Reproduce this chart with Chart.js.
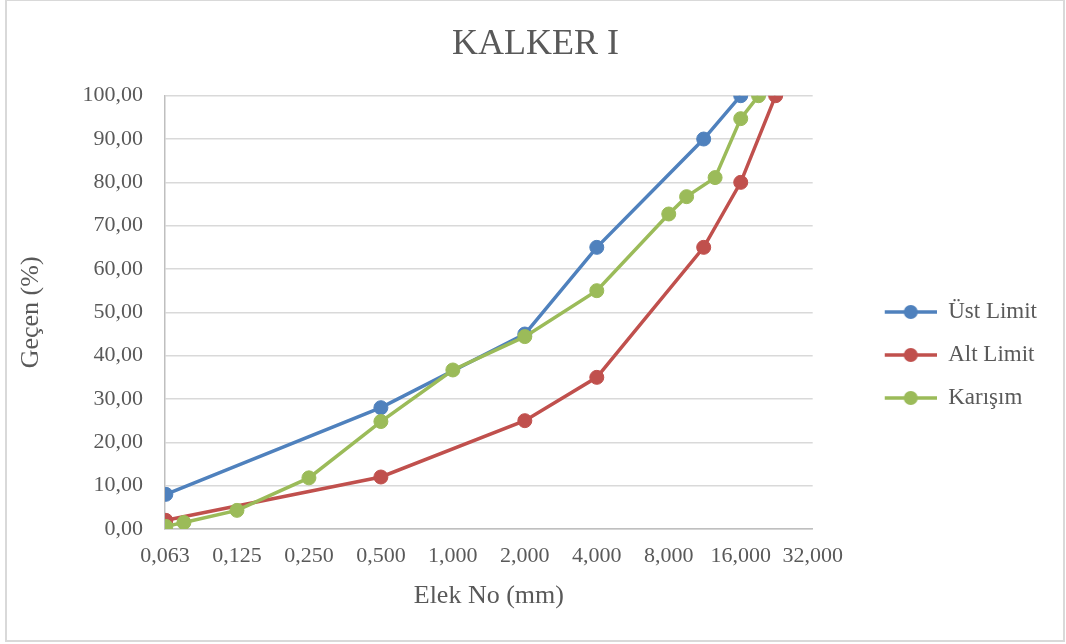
<!DOCTYPE html>
<html lang="tr">
<head>
  <meta charset="UTF-8">
  <title>KALKER I</title>
  <script src="https://cdn.jsdelivr.net/npm/chart.js"></script>
  <style>
    body { margin: 0; background: #fff; }
    #wrap { position: relative; width: 1066px; height: 644px; }
    #frame { position: absolute; left: 5px; top: -1px; width: 1060px; height: 643px; box-sizing: border-box; border: 2px solid #d9d9d9; pointer-events: none; }
  </style>
</head>
<body>
  <div id="wrap">
    <canvas id="grafico" width="1066" height="644"></canvas>
    <div id="frame"></div>
  </div>
<script>
  const xTickValues = [0.0625, 0.125, 0.25, 0.5, 1, 2, 4, 8, 16, 32];
  const xTickLabels = ['0,063', '0,125', '0,250', '0,500', '1,000', '2,000', '4,000', '8,000', '16,000', '32,000'];

  const ustX = [0.063, 0.5, 2, 4, 11.2, 16];
  const ustY = [8, 28, 45, 65, 90, 100];

  const altX = [0.063, 0.5, 2, 4, 11.2, 16, 22.4];
  const altY = [2, 12, 25, 35, 65, 80, 100];

  const karisimX = [0.063, 0.075, 0.125, 0.25, 0.5, 1, 2, 4, 8, 9.5, 12.5, 16, 19];
  const karisimY = [0.6, 1.5, 4.3, 11.8, 24.8, 36.7, 44.4, 55, 72.7, 76.7, 81.1, 94.7, 100];

  const fonte = "'Liberation Serif', 'Times New Roman', serif";
  const cinza = '#595959';
  const cores = ['#4f81bd', '#c0504d', '#9bbb59'];
  const padEsq = 24;

  function pares(xs, ys) {
    return xs.map((x, i) => ({ x: x, y: ys[i] }));
  }

  // icone da legenda: linha com circulo (estilo Excel), lado esquerdo vazio
  function iconeLegenda(cor) {
    const c = document.createElement('canvas');
    c.width = 104;
    c.height = 18;
    const g = c.getContext('2d');
    g.strokeStyle = cor;
    g.lineWidth = 3.5;
    g.beginPath();
    g.moveTo(52, 9);
    g.lineTo(104, 9);
    g.stroke();
    g.fillStyle = cor;
    g.beginPath();
    g.arc(78, 9, 7, 0, Math.PI * 2);
    g.fill();
    return c;
  }
  const icones = cores.map(iconeLegenda);

  function serie(label, xs, ys, cor, ordem) {
    return {
      label: label,
      data: pares(xs, ys),
      borderColor: cor,
      backgroundColor: cor,
      pointBackgroundColor: cor,
      pointBorderColor: cor,
      borderWidth: 3.5,
      pointRadius: 7,
      pointHoverRadius: 7,
      pointBorderWidth: 1,
      tension: 0,
      order: ordem
    };
  }

  const ctx = document.getElementById('grafico').getContext('2d');

  new Chart(ctx, {
    type: 'line',
    data: {
      datasets: [
        serie('Üst Limit', ustX, ustY, cores[0], 3),
        serie('Alt Limit', altX, altY, cores[1], 2),
        serie('Karışım', karisimX, karisimY, cores[2], 1)
      ]
    },
    options: {
      responsive: false,
      animation: false,
      layout: { padding: { top: 4, left: padEsq, right: 19, bottom: 10 } },
      plugins: {
        title: {
          display: true,
          text: 'KALKER I',
          color: cinza,
          font: { family: fonte, size: 36, weight: 'normal' },
          padding: { top: 19, bottom: 29.5 }
        },
        legend: {
          position: 'right',
          align: 'center',
          title: { display: true, text: ' ', font: { size: 10 }, padding: { top: 0, bottom: 60 } },
          labels: {
            usePointStyle: true,
            pointStyleWidth: 104,
            padding: 20,
            color: cinza,
            font: { family: fonte, size: 23 },
            sort: (a, b) => a.datasetIndex - b.datasetIndex,
            generateLabels: function (chart) {
              const itens = Chart.defaults.plugins.legend.labels.generateLabels(chart);
              itens.forEach(item => { item.pointStyle = icones[item.datasetIndex]; });
              return itens;
            }
          }
        },
        tooltip: { enabled: false }
      },
      scales: {
        x: {
          type: 'logarithmic',
          min: 0.0625,
          max: 32,
          afterBuildTicks: function (scale) {
            scale.ticks = xTickValues.map(v => ({ value: v }));
          },
          afterFit: function (scale) {
            scale.height = 644 - 10 - 529;
          },
          ticks: {
            autoSkip: false,
            maxRotation: 0,
            padding: 14,
            color: cinza,
            font: { family: fonte, size: 22 },
            callback: function (value, index) {
              return xTickLabels[index];
            }
          },
          grid: { display: false, drawTicks: false },
          border: { display: true, color: '#bfbfbf', width: 1.5 },
          title: {
            display: true,
            text: 'Elek No (mm)',
            color: cinza,
            font: { family: fonte, size: 26 },
            padding: { top: 0, bottom: 22 }
          }
        },
        y: {
          min: 0,
          max: 100,
          afterFit: function (scale) {
            scale.width = 165 - padEsq;
          },
          ticks: {
            stepSize: 10,
            padding: 22,
            color: cinza,
            font: { family: fonte, size: 22 },
            callback: value => value.toFixed(2).replace('.', ',')
          },
          grid: { color: '#d9d9d9', lineWidth: 1.5, drawTicks: false },
          border: { display: true, color: '#bfbfbf', width: 1.5 },
          title: {
            display: true,
            text: 'Geçen (%)',
            color: cinza,
            font: { family: fonte, size: 26 },
            padding: { top: -8, bottom: 0 }
          }
        }
      }
    }
  });
</script>
</body>
</html>
